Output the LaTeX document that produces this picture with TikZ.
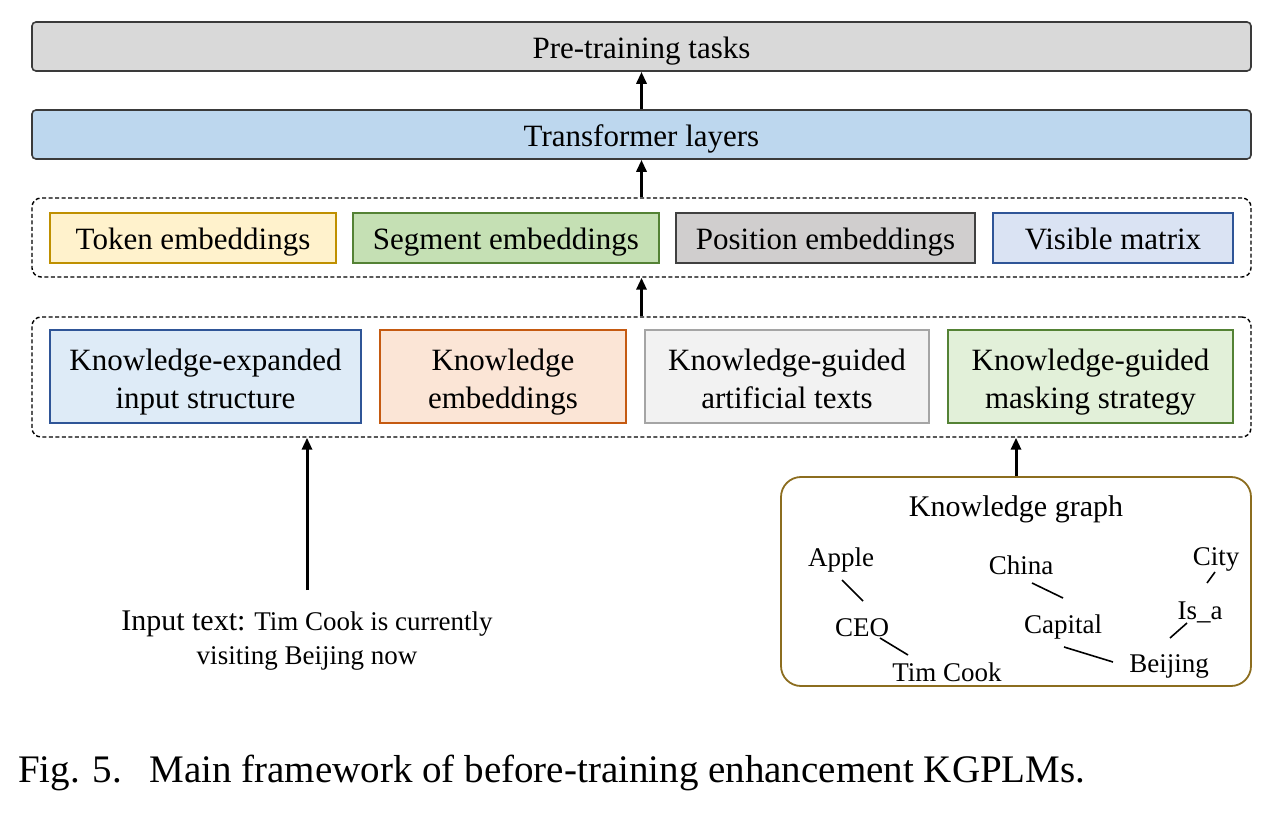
\documentclass[tikz,border=0pt]{standalone}
\usepackage{fontspec}
\setmainfont{Liberation Serif}
\usetikzlibrary{arrows.meta}
\definecolor{preF}{HTML}{D9D9D9}
\definecolor{trF}{HTML}{BDD7EE}
\definecolor{dk}{HTML}{3A3A3A}
\definecolor{tokF}{HTML}{FFF2CC}\definecolor{tokD}{HTML}{BF9000}
\definecolor{segF}{HTML}{C5E0B4}\definecolor{segD}{HTML}{548235}
\definecolor{posF}{HTML}{D0CECE}\definecolor{posD}{HTML}{404040}
\definecolor{visF}{HTML}{DAE3F3}\definecolor{visD}{HTML}{2F5597}
\definecolor{keF}{HTML}{DEEBF7}\definecolor{keD}{HTML}{2F5597}
\definecolor{kmF}{HTML}{FBE5D6}\definecolor{kmD}{HTML}{C55A11}
\definecolor{kaF}{HTML}{F2F2F2}\definecolor{kaD}{HTML}{A5A5A5}
\definecolor{kgF}{HTML}{E2F0D9}\definecolor{kgD}{HTML}{548235}
\definecolor{graphD}{HTML}{8C6D1F}
\begin{document}
\begin{tikzpicture}[x=1pt,y=-1pt,
  txt/.style={font=\fontsize{31}{38}\selectfont,text height=24pt,text depth=0pt},
  bar/.style={draw=dk,line width=1.6pt,rounded corners=4pt,minimum width=1219pt,minimum height=49pt,txt,inner sep=0pt},
  ebox/.style={line width=1.8pt,minimum height=50pt,txt,inner sep=0pt},
  kbox/.style={line width=1.8pt,minimum height=93pt,font=\fontsize{31}{38}\selectfont,text height=64pt,text depth=1pt,inner sep=0pt,align=center},
  dbox/.style={draw=black,dashed,dash pattern=on 4pt off 2.5pt,line width=1.4pt,rounded corners=9pt,minimum width=1219pt},
  arr/.style={line width=3pt,-{Triangle[length=12pt,width=10pt]}},
  gl/.style={font=\fontsize{27}{32}\selectfont,inner sep=0pt},
  ge/.style={line width=1.6pt}
]
\useasboundingbox (0,0) rectangle (1274,834);
\node[bar,fill=preF] (pre) at (641.5,46.5) {Pre-training tasks};
\node[bar,fill=trF] (trans) at (641.5,134.5) {Transformer layers};
\node[dbox,minimum height=79pt] (d1) at (641.5,237.5) {};
\node[ebox,fill=tokF,draw=tokD,minimum width=286pt] (tok) at (193,238) {Token embeddings};
\node[ebox,fill=segF,draw=segD,minimum width=306pt] (seg) at (506,238) {Segment embeddings};
\node[ebox,fill=posF,draw=posD,minimum width=299pt] (pos) at (825.5,238) {Position embeddings};
\node[ebox,fill=visF,draw=visD,minimum width=240pt] (vis) at (1113,238) {Visible matrix};
\node[dbox,minimum height=120pt] (d2) at (641.5,377) {};
\node[kbox,fill=keF,draw=keD,minimum width=311pt] (ke) at (205.5,376.5) {Knowledge-expanded\\input structure};
\node[kbox,fill=kmF,draw=kmD,minimum width=246pt] (km) at (503,376.5) {Knowledge\\embeddings};
\node[kbox,fill=kaF,draw=kaD,minimum width=284pt] (ka) at (787,376.5) {Knowledge-guided\\artificial texts};
\node[kbox,fill=kgF,draw=kgD,minimum width=285pt] (kg) at (1090.5,376.5) {Knowledge-guided\\masking strategy};
\draw[arr] (trans.north) -- (pre.south);
\draw[arr] (d1.north) -- (trans.south);
\draw[arr] (d2.north) -- (d1.south);
% input text
\node[align=center,inner sep=0pt,anchor=base,font=\fontsize{27}{34}\selectfont] (inp) at (307,664) {{\fontsize{30}{34}\selectfont Input text:}\fontsize{27}{34}\selectfont{} Tim Cook is currently\\visiting Beijing now};
\coordinate (inpTop) at (307,590);
\draw[arr] (inpTop) -- (inpTop |- d2.south);
% knowledge graph
\node[draw=graphD,line width=1.8pt,rounded corners=20pt,minimum width=470pt,minimum height=209pt] (graph) at (1016,581.5) {};
\draw[arr] (graph.north) -- (graph.north |- d2.south);
\node[font=\fontsize{30}{36}\selectfont,inner sep=0pt] (gtitle) at (1016,509) {Knowledge graph};
\node[gl] (apple) at (841,560) {Apple};
\node[gl] (ceo) at (862,628) {CEO};
\node[gl] (tim) at (947,672) {Tim Cook};
\node[gl] (china) at (1021,565) {China};
\node[gl] (capital) at (1063,627) {Capital};
\node[gl] (beijing) at (1169,666) {Beijing};
\node[gl] (city) at (1216,559) {City};
\node[gl] (isa) at (1200,612) {Is\_a};
\draw[ge] ([xshift=1pt,yshift=-20pt]apple.center) -- ([xshift=1pt,yshift=27pt]ceo.center);
\draw[ge] ([xshift=18pt,yshift=-10pt]ceo.center) -- ([xshift=-39pt,yshift=17pt]tim.center);
\draw[ge] ([xshift=11pt,yshift=-18pt]china.center) -- ([xshift=0pt,yshift=29pt]capital.center);
\draw[ge] ([xshift=1pt,yshift=-20pt]capital.center) -- ([xshift=-56pt,yshift=4pt]beijing.center);
\draw[ge] ([xshift=-1pt,yshift=-13pt]city.center) -- ([xshift=7pt,yshift=29pt]isa.center);
\draw[ge] ([xshift=-13pt,yshift=-11pt]isa.center) -- ([xshift=1pt,yshift=28pt]beijing.center);
% caption
\node[anchor=base west,inner sep=0pt,font=\fontsize{39}{46}\selectfont] (cap) at (18,782) {Fig. 5.\hspace{0.7em}Main framework of before-training enhancement KGPLMs.};
\end{tikzpicture}
\end{document}
